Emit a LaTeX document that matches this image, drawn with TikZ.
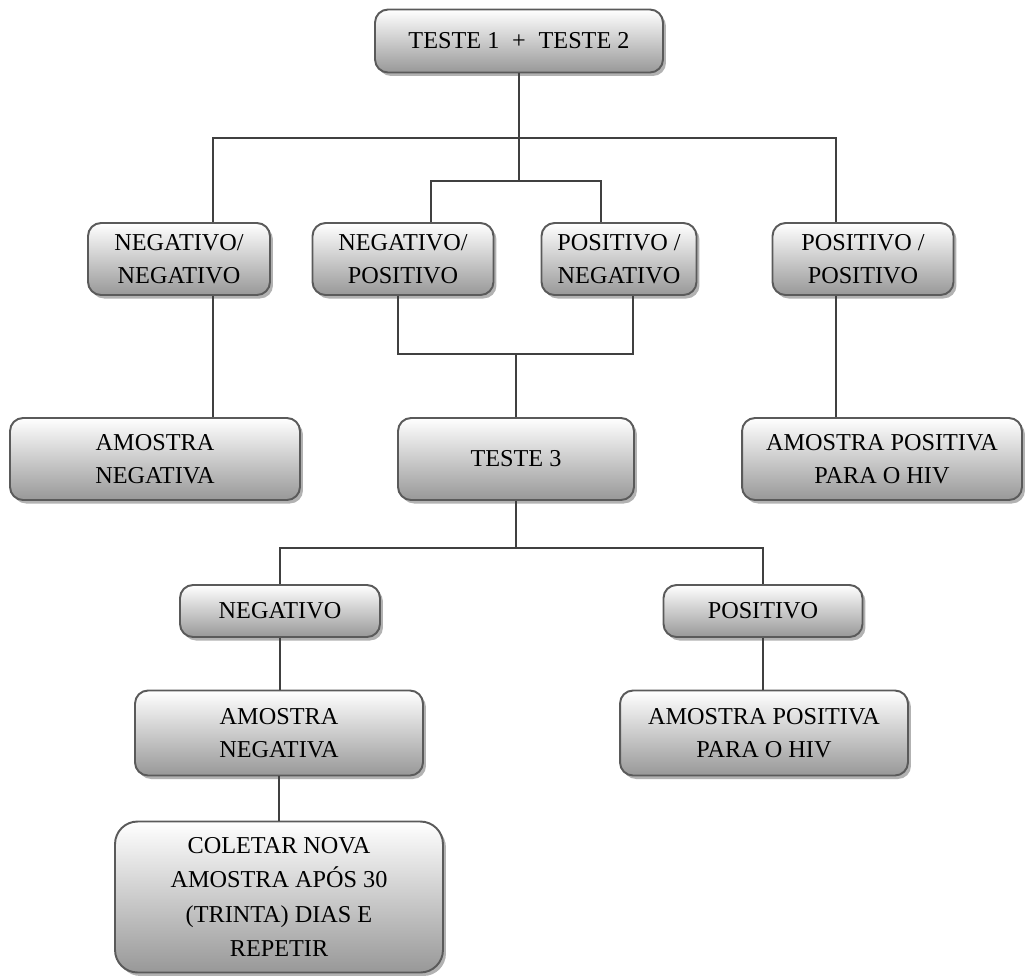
\documentclass[tikz,border=0pt]{standalone}
\usepackage{fontspec}
\setmainfont{Liberation Serif}
\usepackage{tikz}
\usetikzlibrary{calc,positioning,shadows}
\usepackage{xcolor}
\definecolor{mygray}{RGB}{152,152,152}
\definecolor{myedge}{RGB}{90,90,90}
\definecolor{mylink}{RGB}{64,64,64}

\begin{document}
\begin{tikzpicture}[x=0.02cm, y=-0.02cm,
  box/.style={draw=myedge, line width=1.1pt, rounded corners=0.26cm, top color=white, bottom color=mygray,
    drop shadow={shadow xshift=0.6mm, shadow yshift=-0.7mm, fill=black!30, opacity=1},
    align=center, inner sep=2pt, font=\fontsize{13.8}{18.5}\selectfont},
  link/.style={draw=mylink, line width=1.3pt}]
  \useasboundingbox (0,0) rectangle (1025,978);

  \node[box, minimum width=5.76cm, minimum height=1.26cm] (t12) at (519,41) {TESTE 1 \;+\; TESTE 2};

  \node[box, minimum width=3.64cm, minimum height=1.44cm] (nn) at (179,259) {NEGATIVO/\\NEGATIVO};
  \node[box, minimum width=3.62cm, minimum height=1.44cm] (np) at (403,259) {NEGATIVO/\\POSITIVO};
  \node[box, minimum width=3.10cm, minimum height=1.44cm] (pn) at (619,259) {POSITIVO /\\NEGATIVO};
  \node[box, minimum width=3.62cm, minimum height=1.44cm] (pp) at (863,259) {POSITIVO /\\POSITIVO};

  \node[box, minimum width=5.80cm, minimum height=1.64cm] (an1) at (155,459) {AMOSTRA\\NEGATIVA};
  \node[box, minimum width=4.72cm, minimum height=1.64cm] (t3) at (516,459) {TESTE 3};
  \node[box, minimum width=5.60cm, minimum height=1.64cm] (ap1) at (882,459) {AMOSTRA POSITIVA\\PARA O HIV};

  \node[box, minimum width=4.00cm, minimum height=1.04cm] (neg) at (280,611) {NEGATIVO};
  \node[box, minimum width=3.98cm, minimum height=1.04cm] (pos) at (763,611) {POSITIVO};

  \node[box, minimum width=5.76cm, minimum height=1.70cm] (an2) at (279,733) {AMOSTRA\\NEGATIVA};
  \node[box, minimum width=5.76cm, minimum height=1.70cm] (ap2) at (764,733) {AMOSTRA POSITIVA\\PARA O HIV};

  \node[box, minimum width=6.56cm, minimum height=3.02cm, rounded corners=0.45cm,
    font=\fontsize{13.8}{19.5}\selectfont] (col) at (279,897)
    {COLETAR NOVA\\AMOSTRA APÓS 30\\(TRINTA) DIAS E\\REPETIR};

  % Junctions
  \coordinate (bus1L) at (213,138);
  \coordinate (bus1R) at (836,138);
  \coordinate (bus2L) at (431,181);
  \coordinate (bus2R) at (601,181);
  \coordinate (bus3L) at (398,354);
  \coordinate (bus3R) at (633,354);
  \coordinate (bus4L) at (280,548);

  \draw[link] (t12.south) -- (t12.south |- bus2L);
  \draw[link] (nn.north -| bus1L) |- (bus1R) -- (pp.north -| bus1R);
  \draw[link] (np.north -| bus2L) |- (bus2R) -- (pn.north -| bus2R);
  \draw[link] (np.south -| bus3L) |- (bus3R) -- (pn.south -| bus3R);
  \draw[link] (t3.north) -- (t3.north |- bus3L);
  \draw[link] (nn.south -| bus1L) -- (an1.north -| bus1L);
  \draw[link] (pp.south -| bus1R) -- (ap1.north -| bus1R);
  \draw[link] (t3.south) -- (t3.south |- bus4L);
  \draw[link] (neg.north) |- (pos.north |- bus4L) -- (pos.north);
  \draw[link] (neg.south) -- (neg.south |- an2.north);
  \draw[link] (pos.south) -- (pos.south |- ap2.north);
  \draw[link] (an2.south) -- (an2.south |- col.north);
\end{tikzpicture}
\end{document}
